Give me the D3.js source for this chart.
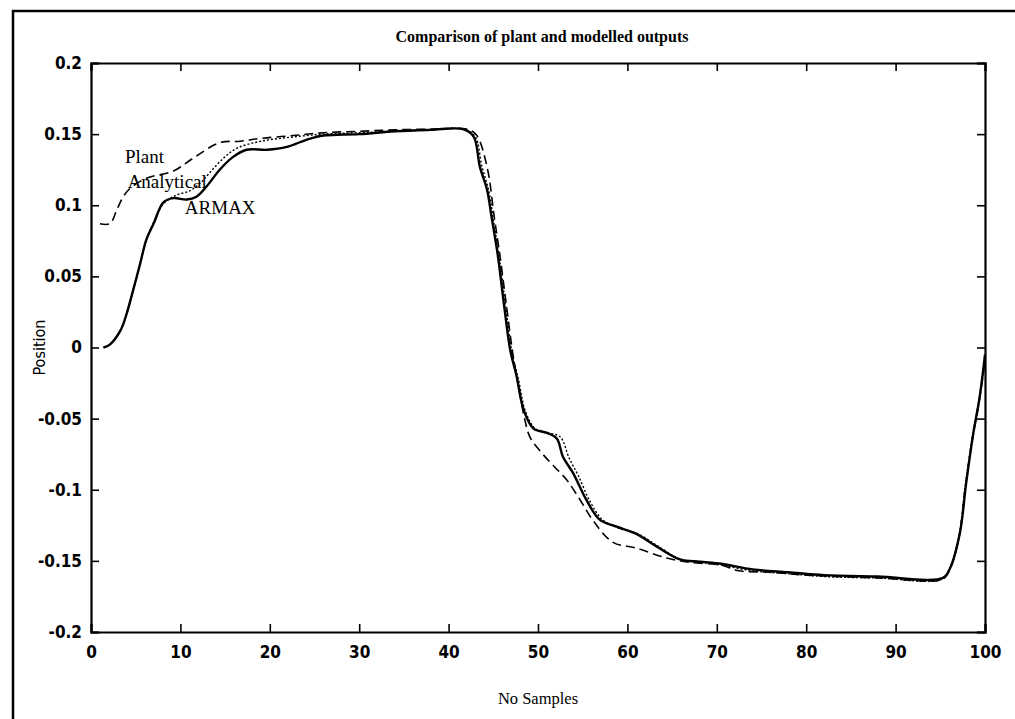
<!DOCTYPE html>
<html>
<head>
<meta charset="utf-8">
<script src="https://cdn.jsdelivr.net/npm/d3@7"></script>
<style>
  body { margin: 0; background: #fff; }
  svg { display: block; }
</style>
</head>
<body>
<div id="chart"></div>
<script>
// sample numbers and positions
const plantX = [1.4, 2.1, 3.3, 4.0, 4.7, 5.5, 6.2, 7.0, 8.1, 9.2, 10.7, 11.8, 12.9, 14.4, 15.9, 17.4, 19.7, 21.9, 24.1, 26, 30, 34, 38, 41.6, 42.8, 43.5, 44.3, 44.8, 45.5, 46.2, 46.9, 47.6, 48.4, 49.5, 51.0, 52.1, 52.8, 53.9, 55.4, 56.9, 58.8, 61.0, 63.3, 65.9, 68.1, 70.5, 74, 78, 82, 88, 95.3, 96.1, 97.2, 97.9, 98.7, 99.4, 100];
const plantY = [0, 0.002, 0.012, 0.024, 0.040, 0.059, 0.076, 0.087, 0.102, 0.105, 0.104, 0.106, 0.113, 0.125, 0.134, 0.139, 0.139, 0.141, 0.146, 0.149, 0.150, 0.152, 0.153, 0.1535, 0.1483, 0.127, 0.111, 0.092, 0.065, 0.030, -0.002, -0.020, -0.044, -0.057, -0.060, -0.064, -0.077, -0.088, -0.107, -0.121, -0.126, -0.131, -0.140, -0.149, -0.1506, -0.152, -0.156, -0.158, -0.160, -0.161, -0.162, -0.155, -0.130, -0.095, -0.060, -0.035, -0.005];

const analyticalX = [1.4, 2.1, 3.3, 4.0, 4.7, 5.5, 6.2, 7.0, 8.1, 9.5, 11, 12.3, 13.3, 14.8, 16.3, 19, 22.6, 26, 30, 34, 38, 41.8, 43, 43.7, 44.5, 45, 45.7, 46.4, 47.1, 47.8, 48.6, 49.7, 51.2, 52.5, 53.5, 54.5, 55.8, 57.2, 59, 61.2, 63.5, 66, 68.2, 70.5, 74, 78, 82, 88, 95.2, 96, 97.1, 97.8, 98.6, 99.3, 100];
const analyticalY = [0, 0.002, 0.012, 0.024, 0.040, 0.059, 0.076, 0.088, 0.101, 0.107, 0.110, 0.116, 0.123, 0.133, 0.140, 0.145, 0.148, 0.150, 0.151, 0.152, 0.153, 0.1535, 0.148, 0.128, 0.110, 0.090, 0.062, 0.028, -0.004, -0.022, -0.045, -0.057, -0.060, -0.063, -0.078, -0.090, -0.108, -0.121, -0.127, -0.131, -0.140, -0.149, -0.151, -0.153, -0.157, -0.159, -0.161, -0.162, -0.163, -0.156, -0.132, -0.097, -0.062, -0.038, -0.008];

const armaxX = [1.0, 2.1, 2.9, 3.6, 4.4, 6.2, 9.2, 11.4, 14.4, 16.7, 19.0, 22.6, 26, 30, 34, 38, 42, 43.1, 44.3, 45.1, 45.8, 46.5, 47.2, 47.9, 48.5, 49.1, 50.4, 51.7, 53.2, 54.7, 56.2, 58.4, 61.0, 64.4, 67, 70.5, 72.5, 76, 80, 88, 95.2, 96, 97.1, 97.8, 98.6, 99.3, 100];
const armaxY = [0.087, 0.087, 0.097, 0.106, 0.112, 0.119, 0.124, 0.133, 0.144, 0.145, 0.147, 0.149, 0.151, 0.152, 0.153, 0.1535, 0.1535, 0.1495, 0.127, 0.092, 0.062, 0.028, -0.005, -0.030, -0.050, -0.063, -0.074, -0.083, -0.093, -0.107, -0.122, -0.137, -0.141, -0.148, -0.151, -0.153, -0.157, -0.158, -0.160, -0.162, -0.163, -0.157, -0.133, -0.098, -0.064, -0.040, -0.010];

const xTicks = [0, 10, 20, 30, 40, 50, 60, 70, 80, 90, 100];
const yTicks = [-0.2, -0.15, -0.1, -0.05, 0, 0.05, 0.1, 0.15, 0.2];

// hand-placed text labels (gtext style) in data units
const labelNames = ["Plant", "Analytical", "ARMAX"];
const labelX = [3.8, 4.1, 10.5];
const labelY = [0.130, 0.112, 0.094];

const width = 1015, height = 719;
const plot = { left: 91, right: 985, top: 63, bottom: 632 };

const svg = d3.select("#chart").append("svg")
  .attr("width", width)
  .attr("height", height);

// outer scanned frame
svg.append("path")
  .attr("d", `M13,${height} L13,11 L${width},11`)
  .attr("fill", "none")
  .attr("stroke", "#000")
  .attr("stroke-width", 2.5);

const x = d3.scaleLinear().domain([0, 100]).range([plot.left, plot.right]);
const y = d3.scaleLinear().domain([-0.2, 0.2]).range([plot.bottom, plot.top]);

// plain hyphen minus, like the old print
const fmt = d => d === 0 ? "0" : String(+d.toFixed(2));
const tickFont = "'Liberation Sans Narrow', 'DejaVu Sans Condensed', sans-serif";

// axes: ticks point inward, MATLAB style
const xAxis = svg.append("g")
  .attr("transform", `translate(0,${plot.bottom})`)
  .call(d3.axisBottom(x).tickValues(xTicks).tickSize(-8).tickPadding(14).tickFormat(fmt));
const yAxis = svg.append("g")
  .attr("transform", `translate(${plot.left},0)`)
  .call(d3.axisLeft(y).tickValues(yTicks).tickSize(-8).tickPadding(9).tickFormat(fmt));
const xTop = svg.append("g")
  .attr("transform", `translate(0,${plot.top})`)
  .call(d3.axisTop(x).tickValues(xTicks).tickSize(-8).tickFormat(""));
const yRight = svg.append("g")
  .attr("transform", `translate(${plot.right},0)`)
  .call(d3.axisRight(y).tickValues(yTicks).tickSize(-8).tickFormat(""));

[xAxis, yAxis, xTop, yRight].forEach(g => {
  g.select(".domain").attr("stroke", "#000").attr("stroke-width", 2.2);
  g.selectAll(".tick line").attr("stroke", "#000").attr("stroke-width", 1.6);
  g.selectAll(".tick text")
    .attr("fill", "#000")
    .style("font-family", tickFont)
    .style("font-weight", "bold")
    .style("font-size", "17px");
});

// data lines
const line = d3.line()
  .x(d => x(d[0]))
  .y(d => y(d[1]))
  .curve(d3.curveCatmullRom.alpha(0.5));

const series = [
  { xs: armaxX, ys: armaxY, width: 1.6, dash: "9,5" },
  { xs: analyticalX, ys: analyticalY, width: 1.4, dash: "2,2" },
  { xs: plantX, ys: plantY, width: 2.4, dash: null }
];

series.forEach(s => {
  const pts = s.xs.map((v, i) => [v, s.ys[i]]);
  svg.append("path")
    .datum(pts)
    .attr("d", line)
    .attr("fill", "none")
    .attr("stroke", "#000")
    .attr("stroke-width", s.width)
    .attr("stroke-dasharray", s.dash)
    .attr("stroke-linejoin", "round");
});

// labels placed next to the curves
svg.selectAll("text.curve-label")
  .data(labelNames)
  .enter()
  .append("text")
  .attr("class", "curve-label")
  .attr("x", (d, i) => x(labelX[i]))
  .attr("y", (d, i) => y(labelY[i]))
  .style("font-family", "'Liberation Serif', serif")
  .style("font-size", "19px")
  .text(d => d);

// title and axis labels
svg.append("text")
  .attr("x", (plot.left + plot.right) / 2 + 4)
  .attr("y", 42)
  .attr("text-anchor", "middle")
  .style("font-family", "'Liberation Serif', serif")
  .style("font-weight", "bold")
  .style("font-size", "16px")
  .text("Comparison of plant and modelled outputs");

svg.append("text")
  .attr("x", (plot.left + plot.right) / 2)
  .attr("y", 704)
  .attr("text-anchor", "middle")
  .style("font-family", "'Liberation Serif', serif")
  .style("font-size", "16.5px")
  .text("No Samples");

svg.append("text")
  .attr("transform", `translate(45,${(plot.top + plot.bottom) / 2}) rotate(-90)`)
  .attr("text-anchor", "middle")
  .style("font-family", tickFont)
  .style("font-size", "16px")
  .text("Position");
</script>
</body>
</html>
